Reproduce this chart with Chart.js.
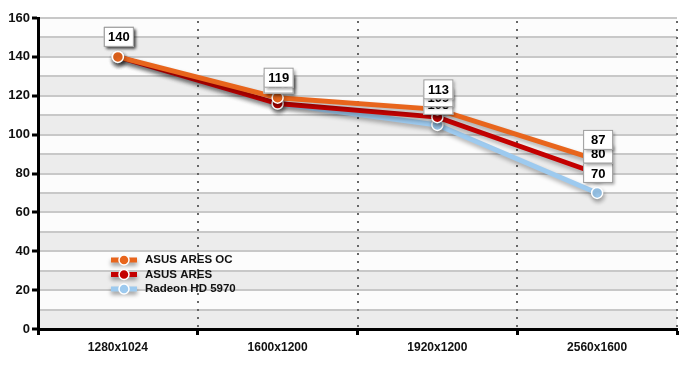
<!DOCTYPE html>
<html>
<head>
<meta charset="utf-8">
<script src="https://cdn.jsdelivr.net/npm/chart.js@4"></script>
<style>
  html, body { margin: 0; padding: 0; background: #fff; }
  #wrap { width: 690px; height: 368px; }
</style>
</head>
<body>
<div id="wrap"><canvas id="chart"></canvas></div>
<script>
const labels = ['1280x1024', '1600x1200', '1920x1200', '2560x1600'];
const seriesNames = ['ASUS ARES OC', 'ASUS ARES', 'Radeon HD 5970'];
const aresOc = [140, 119, 113, 87];
const ares = [140, 116, 109, 80];
const radeon = [140, 116, 105, 70];
const seriesColors = ['#e8651c', '#c40000', '#9dcaef'];
const yTicks = [0, 20, 40, 60, 80, 100, 120, 140, 160];

// grey bands and vertical dotted dividers
const bandsPlugin = {
    id: 'bands',
    beforeDraw(chart) {
        const ctx = chart.ctx;
        const a = chart.chartArea;
        const y = chart.scales.y;
        ctx.save();
        ctx.fillStyle = '#fcfcfc';
        ctx.fillRect(a.left, a.top, a.right - a.left, a.bottom - a.top);
        ctx.fillStyle = '#ececec';
        for (let v = 0; v < 160; v += 20) {
            const top = y.getPixelForValue(v + 10);
            const bot = y.getPixelForValue(v);
            ctx.fillRect(a.left, top, a.right - a.left, bot - top);
        }
        ctx.restore();
    },
    beforeDatasetsDraw(chart) {
        const ctx = chart.ctx;
        const a = chart.chartArea;
        const x = chart.scales.x;
        const step = x.getPixelForValue(1) - x.getPixelForValue(0);
        ctx.save();
        ctx.fillStyle = '#666';
        for (let i = 0; i < labels.length; i++) {
            const px = Math.round(x.getPixelForValue(i) + step / 2);
            for (let yy = a.top + 3; yy < a.bottom - 2; yy += 8) {
                ctx.fillRect(px - 1, yy, 2, 2);
            }
        }
        ctx.restore();
    }
};

const shadowPlugin = {
    id: 'shadow',
    beforeDatasetDraw(chart) {
        const ctx = chart.ctx;
        ctx.save();
        ctx.shadowColor = 'rgba(0,0,0,0.3)';
        ctx.shadowBlur = 4;
        ctx.shadowOffsetY = 3;
        ctx.shadowOffsetX = 1;
    },
    afterDatasetDraw(chart) {
        chart.ctx.restore();
    }
};

// value boxes above the points, first series drawn last (on top)
const labelPlugin = {
    id: 'valueLabels',
    afterDatasetsDraw(chart) {
        const ctx = chart.ctx;
        ctx.save();
        ctx.font = 'bold 13px "Liberation Sans", Arial, sans-serif';
        ctx.textAlign = 'center';
        ctx.textBaseline = 'middle';
        for (let d = chart.data.datasets.length - 1; d >= 0; d--) {
            const meta = chart.getDatasetMeta(d);
            meta.data.forEach((pt, i) => {
                const v = chart.data.datasets[d].data[i];
                const cx = pt.x + 1;
                const cy = pt.y - 20;
                const w = 30, h = 20;
                ctx.save();
                ctx.shadowColor = 'rgba(0,0,0,0.35)';
                ctx.shadowBlur = 3;
                ctx.shadowOffsetX = 2;
                ctx.shadowOffsetY = 2;
                ctx.fillStyle = '#fff';
                ctx.fillRect(cx - w / 2, cy - h / 2, w, h);
                ctx.restore();
                ctx.strokeStyle = '#9a9a9a';
                ctx.lineWidth = 1;
                ctx.strokeRect(cx - w / 2 + 0.5, cy - h / 2 + 0.5, w - 1, h - 1);
                ctx.fillStyle = '#000';
                ctx.fillText(String(v), cx, cy + 1);
            });
        }
        ctx.restore();
    }
};

// legend inside the plot
const legendPlugin = {
    id: 'innerLegend',
    afterDraw(chart) {
        const ctx = chart.ctx;
        ctx.save();
        seriesNames.forEach((name, i) => {
            const y = 260 + i * 14.5;
            ctx.save();
            ctx.shadowColor = 'rgba(0,0,0,0.4)';
            ctx.shadowBlur = 4;
            ctx.shadowOffsetY = 3;
            ctx.strokeStyle = seriesColors[i];
            ctx.lineWidth = 5;
            ctx.beginPath();
            ctx.moveTo(111, y);
            ctx.lineTo(137, y);
            ctx.stroke();
            ctx.restore();
            ctx.beginPath();
            ctx.arc(124, y, 5, 0, Math.PI * 2);
            ctx.fillStyle = seriesColors[i];
            ctx.fill();
            ctx.strokeStyle = '#fff';
            ctx.lineWidth = 1.5;
            ctx.stroke();
            ctx.fillStyle = '#111';
            ctx.font = 'bold 11.5px "Liberation Sans", Arial, sans-serif';
            ctx.textBaseline = 'middle';
            ctx.fillText(name, 145, y);
        });
        ctx.restore();
    }
};

const seriesData = [aresOc, ares, radeon];
const data = {
    labels: labels,
    datasets: seriesNames.map((name, i) => ({
        label: name,
        data: seriesData[i],
        borderColor: seriesColors[i],
        backgroundColor: seriesColors[i],
        borderWidth: 5,
        pointRadius: 5.5,
        pointBorderColor: '#fff',
        pointBorderWidth: 1.5,
        pointBackgroundColor: seriesColors[i],
        tension: 0,
    })),
};

const config = {
    type: 'line',
    data: data,
    options: {
        animation: false,
        responsive: false,
        layout: { padding: { left: 0, right: 13, top: 18, bottom: 0 } },
        plugins: {
            legend: { display: false },
            tooltip: { enabled: false },
        },
        scales: {
            x: {
                offset: true,
                afterFit: s => { s.height = 39; },
                grid: {
                    offset: true,
                    drawOnChartArea: false,
                    tickColor: '#000',
                    tickLength: 6,
                    tickWidth: 3,
                },
                border: { color: '#000', width: 3 },
                ticks: {
                    color: '#111',
                    padding: 5,
                    font: { family: '"Liberation Sans", Arial, sans-serif', size: 12, weight: 'bold' },
                },
            },
            y: {
                min: 0,
                max: 160,
                afterFit: s => { s.width = 38; },
                afterBuildTicks: s => {
                    const t = [];
                    for (let v = 0; v <= 160; v += 10) t.push({ value: v });
                    s.ticks = t;
                },
                grid: {
                    color: '#c8c8c8',
                    lineWidth: 2,
                    tickColor: c => (yTicks.includes(c.tick.value) ? '#000' : 'rgba(0,0,0,0)'),
                    tickLength: 6,
                    tickWidth: 3,
                },
                border: { color: '#000', width: 3 },
                ticks: {
                    color: '#111',
                    padding: 2,
                    autoSkip: false,
                    callback: v => (yTicks.includes(v) ? String(v) : ''),
                    font: { family: '"Liberation Sans", Arial, sans-serif', size: 13, weight: 'bold' },
                },
            },
        },
    },
    plugins: [bandsPlugin, shadowPlugin, labelPlugin, legendPlugin],
};

const canvas = document.getElementById('chart');
canvas.width = 690;
canvas.height = 368;
const myChart = new Chart(canvas, config);
</script>
</body>
</html>
